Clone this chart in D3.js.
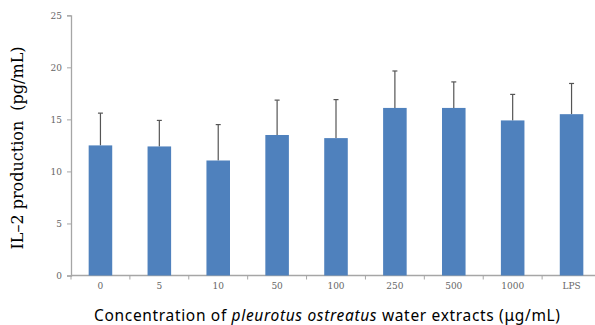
<!DOCTYPE html>
<html>
<head>
<meta charset="utf-8">
<script src="https://cdn.jsdelivr.net/npm/d3@7"></script>
<style>
  body { margin: 0; background: #fff; }
  svg { display: block; }
</style>
</head>
<body>
<svg id="chart"></svg>
<script>
// data
var categories = ["0", "5", "10", "50", "100", "250", "500", "1000", "LPS"];
var means = [12.5, 12.4, 11.05, 13.5, 13.2, 16.1, 16.1, 14.9, 15.5];
var errors = [3.1, 2.5, 3.45, 3.35, 3.7, 3.55, 2.5, 2.5, 2.95];
var yTicks = [0, 5, 10, 15, 20, 25];

var width = 595, height = 325;
var margin = {top: 15, right: 0, bottom: 50, left: 71};

var svg = d3.select("#chart")
    .attr("width", width)
    .attr("height", height);

var x = d3.scaleBand()
    .domain(categories)
    .range([margin.left, 601])
    .paddingInner(0.6)
    .paddingOuter(0.3);

var y = d3.scaleLinear()
    .domain([0, 25])
    .range([275.5, 15.3]);

var axisColor = "#a6a6a6";

// y axis
var yAxis = svg.append("g")
    .attr("transform", "translate(" + margin.left + ",0)")
    .call(d3.axisLeft(y).tickValues(yTicks).tickSize(4).tickPadding(5));
yAxis.select(".domain").attr("stroke", axisColor).attr("stroke-width", 1.3);
yAxis.selectAll(".tick line").attr("stroke", axisColor);
yAxis.selectAll("text")
    .attr("fill", "#666")
    .style("font-family", "'DejaVu Serif', serif")
    .style("font-size", "9px");

// x axis with ticks between categories
var xg = svg.append("g").attr("transform", "translate(0," + y(0) + ")");
xg.append("line")
    .attr("x1", margin.left).attr("x2", 601)
    .attr("stroke", axisColor).attr("stroke-width", 1.3);
var bounds = d3.range(categories.length + 1).map(function(i) { return margin.left + i * x.step(); });
xg.selectAll(".bt")
    .data(bounds)
    .enter().append("line")
    .attr("x1", function(d) { return d; })
    .attr("x2", function(d) { return d; })
    .attr("y1", 0).attr("y2", 4)
    .attr("stroke", axisColor);
xg.selectAll(".xl")
    .data(categories)
    .enter().append("text")
    .attr("x", function(d) { return x(d) + x.bandwidth() / 2; })
    .attr("y", 13)
    .attr("text-anchor", "middle")
    .attr("fill", "#666")
    .style("font-family", "'DejaVu Serif', serif")
    .style("font-size", "9px")
    .text(function(d) { return d; });

// error bars (drawn behind bars)
var eb = svg.selectAll(".err")
    .data(categories)
    .enter().append("g");
eb.append("line")
    .attr("x1", function(d) { return x(d) + x.bandwidth() / 2; })
    .attr("x2", function(d) { return x(d) + x.bandwidth() / 2; })
    .attr("y1", function(d, i) { return y(means[i]); })
    .attr("y2", function(d, i) { return y(means[i] + errors[i]); })
    .attr("stroke", "#555")
    .attr("stroke-width", 1.2);
eb.append("line")
    .attr("x1", function(d) { return x(d) + x.bandwidth() / 2 - 2.5; })
    .attr("x2", function(d) { return x(d) + x.bandwidth() / 2 + 2.5; })
    .attr("y1", function(d, i) { return y(means[i] + errors[i]); })
    .attr("y2", function(d, i) { return y(means[i] + errors[i]); })
    .attr("stroke", "#555")
    .attr("stroke-width", 1.2);

// bars
svg.selectAll(".bar")
    .data(categories)
    .enter().append("rect")
    .attr("x", function(d) { return x(d); })
    .attr("y", function(d, i) { return y(means[i]); })
    .attr("width", x.bandwidth())
    .attr("height", function(d, i) { return y(0) - y(means[i]); })
    .attr("fill", "#4f81bd");

// axis titles
svg.append("text")
    .attr("transform", "translate(23,148) rotate(-90)")
    .attr("text-anchor", "middle")
    .style("font-family", "'DejaVu Serif', serif")
    .style("font-size", "16px")
    .attr("fill", "#000")
    .text("IL\u20132 production\u00a0\u00a0(pg/mL)");

var xt = svg.append("text")
    .attr("x", 327)
    .attr("y", 321)
    .attr("text-anchor", "middle")
    .attr("textLength", 466)
    .attr("lengthAdjust", "spacing")
    .style("font-family", "'Noto Sans', sans-serif")
    .style("font-size", "15.5px")
    .attr("fill", "#000");
xt.append("tspan").text("Concentration of ");
xt.append("tspan").style("font-style", "italic").text("pleurotus ostreatus");
xt.append("tspan").text(" water extracts (\u03bcg/mL)");
</script>
</body>
</html>
